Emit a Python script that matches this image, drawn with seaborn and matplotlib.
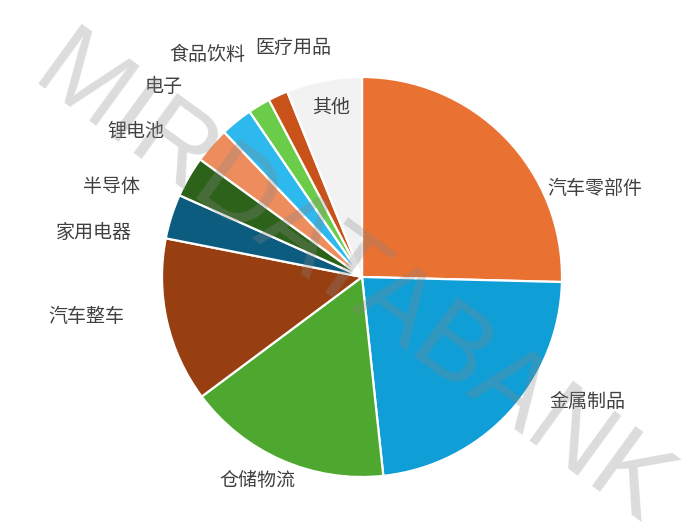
import matplotlib
matplotlib.use("Agg")
import matplotlib.pyplot as plt
import seaborn as sns

sns.set_theme(style="white")
plt.rcParams["font.family"] = ["Noto Sans CJK SC", "DejaVu Sans"]

# data (share in %), clockwise from 12 o'clock
industries = ["汽车零部件", "金属制品", "仓储物流", "汽车整车", "家用电器", "半导体",
              "锂电池", "电子", "食品饮料", "医疗用品", "其他"]
shares = [25.4, 22.9, 16.5, 13.3, 3.6, 3.3, 2.9, 2.6, 1.8, 1.6, 6.1]
colors = ["#E97132", "#0F9ED5", "#4EA72E", "#983F11", "#0B5C7E", "#2D621A",
          "#ED8C5D", "#2DB8EE", "#6ACC48", "#C9511A", "#F2F2F2"]

# label anchor points (pie radius = 1)
label_pos = {
    "汽车零部件": (1.165, 0.445),
    "金属制品": (1.125, -0.62),
    "仓储物流": (-0.525, -1.02),
    "汽车整车": (-1.38, -0.2),
    "家用电器": (-1.34, 0.225),
    "半导体": (-1.255, 0.455),
    "锂电池": (-1.13, 0.73),
    "电子": (-0.99, 0.955),
    "食品饮料": (-0.775, 1.11),
    "医疗用品": (-0.345, 1.15),
    "其他": (-0.155, 0.85),
}

fig = plt.figure(figsize=(6.98, 5.28), dpi=100)
ax = fig.add_axes([0, 0, 1, 1])

ax.pie(shares, colors=colors, startangle=90, counterclock=False, radius=1,
       wedgeprops=dict(edgecolor="white", linewidth=1.6))

for name in industries:
    x, y = label_pos[name]
    ax.text(x, y, name, ha="center", va="center", fontsize=13.7, color="#404040")

ax.set_xlim(-1.81, 1.68)
ax.set_ylim(-1.255, 1.385)
ax.set_aspect("auto")
ax.axis("off")

# watermark
fig.text(0.503, 0.465, "MIRDATABANK", rotation=-36, ha="center", va="center",
         fontsize=77, family="Liberation Sans", color="#878787", alpha=0.29,
         rotation_mode="anchor")

fig.savefig("out.png", dpi=100, facecolor="white")
